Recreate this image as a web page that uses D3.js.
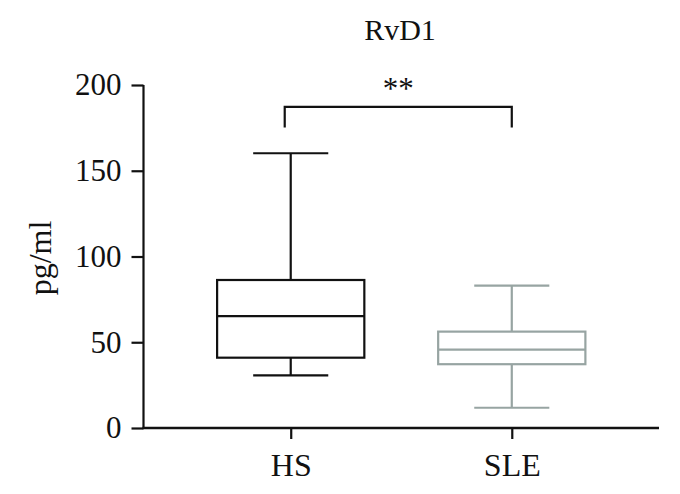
<!DOCTYPE html>
<html>
<head>
<meta charset="utf-8">
<script src="https://cdn.jsdelivr.net/npm/d3@7"></script>
<style>
html,body{margin:0;padding:0;background:#fff;}
svg{display:block;}
text{font-family:"Liberation Serif","Times New Roman",serif;fill:#111;}
</style>
</head>
<body>
<svg id="chart" width="680" height="494"></svg>
<script>
const categories = ["HS", "SLE"];
const whiskerLow  = [30.7, 11.8];
const q1          = [41.0, 37.2];
const median      = [65.2, 45.7];
const q3          = [86.3, 56.2];
const whiskerHigh = [160.2, 83.0];
const yTicks = [0, 50, 100, 150, 200];
const colors = ["#111111", "#97a4a2"];
const title = "RvD1";
const yLabel = "pg/ml";
const sigLabel = "**";

const svg = d3.select("#chart");
const x0 = 143.5, x1 = 659, yTop = 85, yBot = 428;

const x = d3.scalePoint().domain(categories).range([x0, x1]).padding(0.666);
const y = d3.scaleLinear().domain([0, 200]).range([yBot, yTop]);
const step = x.step();
const boxW = step * 0.666;
const capW = boxW * 0.51;

// Y axis
const yAxis = svg.append("g").attr("transform", `translate(${x0},0)`)
  .call(d3.axisLeft(y).tickValues(yTicks).tickSize(12).tickPadding(10).tickFormat(d3.format("d")));
yAxis.select(".domain").attr("stroke", "#111").attr("stroke-width", 2.2).attr("d", `M0,${yTop}V${yBot}`);
yAxis.selectAll(".tick line").attr("stroke", "#111").attr("stroke-width", 2.2);
yAxis.selectAll(".tick text").attr("font-size", 31).attr("font-family", "Liberation Serif").attr("fill", "#111");

// X axis
const xAxis = svg.append("g").attr("transform", `translate(0,${yBot})`)
  .call(d3.axisBottom(x).tickSize(11).tickPadding(14));
xAxis.select(".domain").attr("stroke", "#111").attr("stroke-width", 2.4).attr("d", `M${x0 - 1},0H${x1}`);
xAxis.selectAll(".tick line").attr("stroke", "#111").attr("stroke-width", 2.2);
xAxis.selectAll(".tick text").attr("font-size", 32).attr("font-family", "Liberation Serif").attr("fill", "#111");

// Boxes
const data = categories.map((c, i) => ({c, lo: whiskerLow[i], q1: q1[i], med: median[i], q3: q3[i], hi: whiskerHigh[i], col: colors[i]}));
const g = svg.append("g").selectAll("g").data(data).join("g");
g.each(function(d) {
  const s = d3.select(this);
  const cx = x(d.c);
  const sw = 2.2;
  s.append("line").attr("x1", cx).attr("x2", cx).attr("y1", y(d.hi)).attr("y2", y(d.q3)).attr("stroke", d.col).attr("stroke-width", sw);
  s.append("line").attr("x1", cx).attr("x2", cx).attr("y1", y(d.q1)).attr("y2", y(d.lo)).attr("stroke", d.col).attr("stroke-width", sw);
  s.append("line").attr("x1", cx - capW/2).attr("x2", cx + capW/2).attr("y1", y(d.hi)).attr("y2", y(d.hi)).attr("stroke", d.col).attr("stroke-width", sw);
  s.append("line").attr("x1", cx - capW/2).attr("x2", cx + capW/2).attr("y1", y(d.lo)).attr("y2", y(d.lo)).attr("stroke", d.col).attr("stroke-width", sw);
  s.append("rect").attr("x", cx - boxW/2).attr("width", boxW).attr("y", y(d.q3)).attr("height", y(d.q1) - y(d.q3))
    .attr("fill", "none").attr("stroke", d.col).attr("stroke-width", sw);
  s.append("line").attr("x1", cx - boxW/2).attr("x2", cx + boxW/2).attr("y1", y(d.med)).attr("y2", y(d.med)).attr("stroke", d.col).attr("stroke-width", sw);
});

// Significance bracket
const bx1 = x(categories[0]) - 6, bx2 = x(categories[1]);
const bY = y(187.3), bYd = y(175.2);
svg.append("path").attr("d", `M${bx1},${bYd}V${bY}H${bx2}V${bYd}`)
  .attr("fill", "none").attr("stroke", "#111").attr("stroke-width", 2.2);
svg.append("text").attr("x", (bx1 + bx2) / 2).attr("y", 99).attr("text-anchor", "middle")
  .attr("font-size", 31).text(sigLabel);

// Title
svg.append("text").attr("x", 400).attr("y", 40).attr("text-anchor", "middle").attr("font-size", 30).text(title);

// Y label
svg.append("text").attr("transform", `translate(51,${258}) rotate(-90)`).attr("text-anchor", "middle")
  .attr("font-size", 32).text(yLabel);
</script>
</body>
</html>
